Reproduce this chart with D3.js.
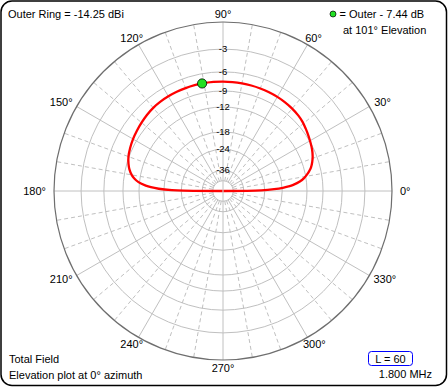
<!DOCTYPE html>
<html><head><meta charset="utf-8">
<script src="https://cdn.jsdelivr.net/npm/d3@7"></script>
<style>
body{margin:0;background:#fff}
svg{display:block}
text{font-family:"Liberation Sans",Arial,sans-serif;fill:#000}
</style>
</head><body>
<svg id="chart" width="448" height="387"></svg>
<script>
// ---- data ----
const elevAngles = [0,1,2,3,4,5,7,9,11,13,15,18,21,25,29,33,37,41,45,50,55,60,65,70,75,80,85,90,95,101,105,110,115,120,125,130,135,140,145,150,155,160,164,167,170,172,174,176,177,178,179,179.5,180];
const relGainDb = [-99,-25.5,-20.5,-17.8,-16.2,-15.0,-13.4,-12.4,-11.7,-11.1,-10.6,-10.1,-9.7,-9.3,-9.0,-8.7,-8.4,-8.1,-7.9,-7.75,-7.65,-7.58,-7.54,-7.51,-7.49,-7.48,-7.47,-7.46,-7.45,-7.44,-7.44,-7.45,-7.46,-7.48,-7.52,-7.6,-7.75,-7.95,-8.15,-8.35,-8.6,-8.9,-9.3,-9.7,-10.3,-10.9,-11.8,-13.4,-14.6,-16.6,-20.5,-25,-99];
const ringDb = [-3,-6,-9,-12,-18,-24,-36];
const innerRingDb = [-48];
const angleTicks = [0,30,60,90,120,150,180,210,240,270,300,330];
const gridAngles = d3.range(0,360,10);
const outerRingDbi = -14.25;
const maxAngle = 101;
const maxRelDb = -7.44;
const fieldLabel = "Total Field";
const plotLabel = "Elevation plot at 0\u00b0 azimuth";
const lengthLabel = "L = 60";
const freqLabel = "1.800 MHz";

// ---- layout ----
const W = 448, H = 387;
const cx = 223, cy = 191, R = 169;
const svg = d3.select("#chart");

// ARRL log scale: each -2 dB multiplies radius by 0.89
const arrl = db => Math.pow(0.89, -db / 2);
const rScale = d3.scaleLinear().domain([0, 1]).range([0, R]);
const rad = db => rScale(arrl(db));
const toRad = deg => deg * Math.PI / 180;

svg.append("rect").attr("x",0).attr("y",0).attr("width",W).attr("height",H).attr("fill","#fff");
svg.append("rect").attr("x",1).attr("y",1).attr("width",W-2.5).attr("height",H-2.5)
  .attr("rx",11).attr("fill","#fff").attr("stroke","#000").attr("stroke-width",1.5);

const g = svg.append("g").attr("transform",`translate(${cx},${cy})`);
const gridColor = "#c0c0c0";
const rInner = rad(innerRingDb[0]);

// radial grid lines
gridAngles.forEach(a => {
  const major = a % 30 === 0;
  const axis = a % 90 === 0;
  const r0 = axis ? 0 : rInner;
  g.append("line")
    .attr("x1", r0*Math.cos(toRad(a))).attr("y1", -r0*Math.sin(toRad(a)))
    .attr("x2", R*Math.cos(toRad(a))).attr("y2", -R*Math.sin(toRad(a)))
    .attr("stroke", gridColor).attr("stroke-width",1)
    .attr("stroke-dasharray", major ? null : "4,3");
});

// rings
ringDb.concat(innerRingDb).forEach(db => {
  g.append("circle").attr("r", rad(db)).attr("fill","none").attr("stroke",gridColor).attr("stroke-width",1);
});
g.append("circle").attr("r", R).attr("fill","none").attr("stroke","#6e6e6e").attr("stroke-width",1.2);

// ring labels
ringDb.forEach(db => {
  g.append("text").attr("x",0).attr("y",-rad(db)).attr("dy","0.3em")
    .attr("text-anchor","middle").attr("font-size","9.5px").text(String(db));
});

// angle labels
angleTicks.forEach(a => {
  const t = g.append("text").attr("font-size","11px").attr("text-anchor","middle").attr("dy","0.36em").text(a + "\u00b0");
  const w = t.node().getComputedTextLength();
  const c = Math.cos(toRad(a)), s = Math.sin(toRad(a));
  const dx = 177 + (w/2)*Math.abs(c);
  t.attr("x", dx*c).attr("y", -177*s);
});

// pattern
const pts = elevAngles.map((a,i) => [toRad(90 - a), rad(relGainDb[i])]);
const line = d3.lineRadial().curve(d3.curveCatmullRom.alpha(0.5));
g.append("path").attr("d", line(pts)).attr("fill","none").attr("stroke","#ff0000").attr("stroke-width",2.3).attr("stroke-linejoin","round");

// max marker
const rm = rad(maxRelDb);
g.append("circle").attr("cx", rm*Math.cos(toRad(maxAngle))).attr("cy", -rm*Math.sin(toRad(maxAngle)))
  .attr("r",4.6).attr("fill","#22e022").attr("stroke","#000").attr("stroke-width",0.8);

// texts
svg.append("text").attr("x",8).attr("y",18).attr("font-size","11px").text(`Outer Ring = ${outerRingDbi.toFixed(2)} dBi`);
svg.append("circle").attr("cx",333).attr("cy",14).attr("r",3).attr("fill","#22e022").attr("stroke","#000").attr("stroke-width",0.7);
svg.append("text").attr("x",339.5).attr("y",18).attr("font-size","11px").text(`= Outer - ${Math.abs(maxRelDb).toFixed(2)} dB`);
svg.append("text").attr("x",343).attr("y",34).attr("font-size","11px").text(`at ${maxAngle}\u00b0 Elevation`);
svg.append("text").attr("x",9).attr("y",363).attr("font-size","11px").text(fieldLabel);
svg.append("text").attr("x",9).attr("y",379).attr("font-size","11px").text(plotLabel);
svg.append("rect").attr("x",368.5).attr("y",351.5).attr("width",44).attr("height",14).attr("rx",3)
  .attr("fill","none").attr("stroke","#0000ff").attr("stroke-width",1);
svg.append("text").attr("x",390.5).attr("y",362.5).attr("text-anchor","middle").attr("font-size","11px").text(lengthLabel);
svg.append("text").attr("x",432).attr("y",378).attr("text-anchor","end").attr("font-size","11px").text(freqLabel);
</script>
</body></html>
